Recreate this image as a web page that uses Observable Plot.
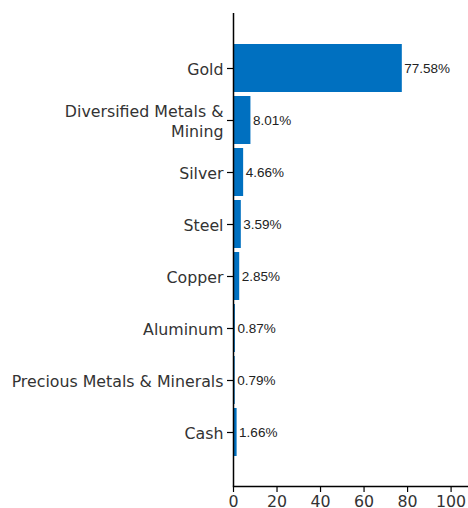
<!DOCTYPE html>
<html>
<head>
<meta charset="utf-8">
<script src="https://cdn.jsdelivr.net/npm/d3@7"></script>
<script src="https://cdn.jsdelivr.net/npm/@observablehq/plot@0.6"></script>
<style>
  body { margin: 0; background: #fff; }
  #chart svg { display: block; }
</style>
</head>
<body>
<div id="chart"></div>
<script>
const categories = ["Gold", "Diversified Metals &\nMining", "Silver", "Steel", "Copper", "Aluminum", "Precious Metals & Minerals", "Cash"];
const values = [77.58, 8.01, 4.66, 3.59, 2.85, 0.87, 0.79, 1.66];
const xTicks = [0, 20, 40, 60, 80, 100];

const data = categories.map((c, i) => ({category: c, value: values[i]}));

const chart = Plot.plot({
  width: 468,
  height: 508,
  marginLeft: 233,
  marginRight: 0,
  marginTop: 13,
  marginBottom: 22,
  style: {fontFamily: "DejaVu Sans", background: "#fff"},
  x: {domain: [0, 108], ticks: xTicks, label: null},
  y: {domain: categories, paddingInner: 0.08, paddingOuter: 0.52, label: null},
  marks: [
    Plot.barX(data, {x: "value", y: "category", fill: "#0070C0"}),
    Plot.text(data, {
      x: "value", y: "category", text: d => d.value.toFixed(2) + "%",
      textAnchor: "start", dx: 2, fontSize: 13.5, fill: "#222",
      fontFamily: "Liberation Sans"
    }),
    Plot.ruleX([0], {stroke: "#000", strokeWidth: 1.5}),
    Plot.frame({anchor: "bottom", stroke: "#000", strokeWidth: 1.5}),
    Plot.axisY({tickSize: 6, tickPadding: 4, fontSize: 15.8, stroke: "#000", fill: "#333", strokeWidth: 1.2, lineAnchor: "middle", lineHeight: 1.25}),
    Plot.axisX({ticks: xTicks, tickSize: 6, tickPadding: 3, fontSize: 15.8, stroke: "#000", fill: "#333", strokeWidth: 1.2})
  ]
});
document.getElementById("chart").appendChild(chart);
</script>
</body>
</html>
